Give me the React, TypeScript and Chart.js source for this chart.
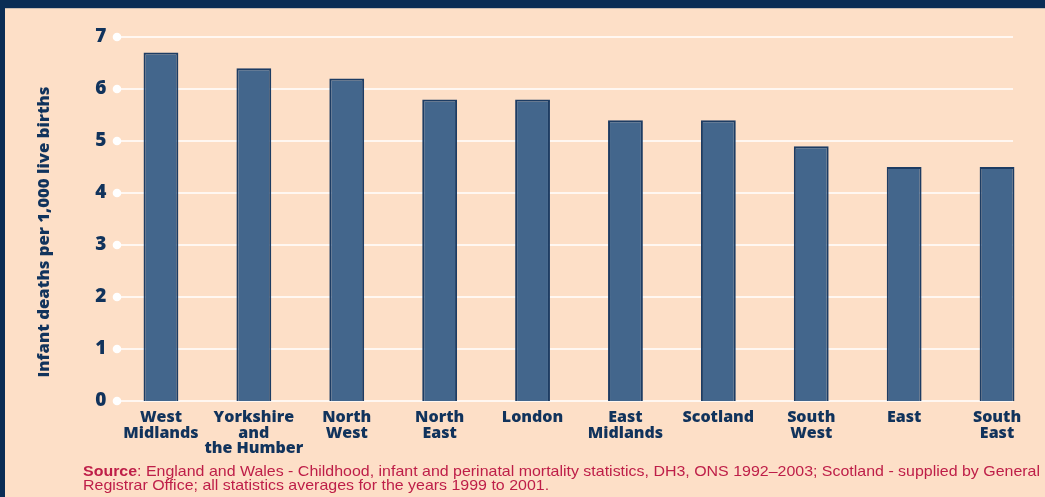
import React, { useEffect, useRef } from "react";
import { Chart, registerables } from "chart.js";

Chart.register(...registerables);

const categories: string[][] = [
  ["West", "Midlands"],
  ["Yorkshire", "and", "the Humber"],
  ["North", "West"],
  ["North", "East"],
  ["London"],
  ["East", "Midlands"],
  ["Scotland"],
  ["South", "West"],
  ["East"],
  ["South", "East"],
];
const values: number[] = [6.7, 6.4, 6.2, 5.8, 5.8, 5.4, 5.4, 4.9, 4.5, 4.5];
const yMin = 0;
const yMax = 7;
const yStep = 1;
const yTitle = "Infant deaths per 1,000 live births";
const sourceLabel = "Source";
const sourceLine1 =
  ": England and Wales - Childhood, infant and perinatal mortality statistics, DH3, ONS 1992\u20132003; Scotland - supplied by General";
const sourceLine2 = "Registrar Office; all statistics averages for the years 1999 to 2001.";

const BG = "#FDDFC7";
const NAVY = "#0A2D55";
const TEXT_NAVY = "#11335C";
const BAR_FILL = "#43668C";
const BAR_BORDER = "#1D3C63";
const SOURCE_RED = "#BE1E48";

const framePlugin = {
  id: "frame",
  beforeDraw(chart: any) {
    const { ctx, width, height } = chart;
    ctx.save();
    ctx.fillStyle = BG;
    ctx.fillRect(0, 0, width, height);
    ctx.fillStyle = NAVY;
    ctx.fillRect(0, 0, width, 8);
    ctx.fillRect(0, 0, 5, height);
    ctx.fillStyle = "#C9BDB3";
    ctx.fillRect(5, 8, width - 5, 1);
    ctx.restore();
  },
};

const gridPlugin = {
  id: "customGrid",
  beforeDatasetsDraw(chart: any) {
    const { ctx, chartArea } = chart;
    const y = chart.scales.y;
    const x0 = chartArea.left + 2.5;
    const x1 = chartArea.right - 30.5;
    ctx.save();
    for (let v = yMin; v <= yMax; v += yStep) {
      const py = y.getPixelForValue(v);
      ctx.strokeStyle = "#FFFFFF";
      ctx.lineWidth = 1.6;
      ctx.beginPath();
      ctx.moveTo(x0, py);
      ctx.lineTo(x1, py);
      ctx.stroke();
      ctx.fillStyle = "#FFFFFF";
      ctx.beginPath();
      ctx.arc(x0, py, 4.3, 0, Math.PI * 2);
      ctx.fill();
    }
    ctx.restore();
  },
};

const textPlugin = {
  id: "texts",
  afterDraw(chart: any) {
    const { ctx, chartArea } = chart;
    ctx.save();
    // y title
    ctx.fillStyle = TEXT_NAVY;
    ctx.font = "800 15.5px 'Open Sans'";
    ctx.textAlign = "center";
    ctx.textBaseline = "middle";
    ctx.translate(45, (chartArea.top + chartArea.bottom) / 2 + 13);
    ctx.rotate(-Math.PI / 2);
    const tw = ctx.measureText(yTitle).width;
    const s = 291 / tw;
    ctx.scale(s, 1);
    ctx.fillText(yTitle, 0, 0);
    ctx.restore();

    // source
    ctx.save();
    ctx.fillStyle = SOURCE_RED;
    ctx.textBaseline = "alphabetic";
    ctx.textAlign = "left";
    const left = 83;
    const target = 957;
    const boldFont = "bold 14.5px 'Liberation Sans'";
    const normFont = "14.5px 'Liberation Sans'";
    ctx.font = boldFont;
    const wb = ctx.measureText(sourceLabel).width;
    ctx.font = normFont;
    const w1 = ctx.measureText(sourceLine1).width;
    const sx = target / (wb + w1);
    ctx.translate(left, 0);
    ctx.scale(sx, 1);
    ctx.font = boldFont;
    ctx.fillText(sourceLabel, 0, 476);
    ctx.font = normFont;
    ctx.fillText(sourceLine1, wb, 476);
    ctx.fillText(sourceLine2, 0, 490);
    ctx.restore();
  },
};

export default function App() {
  const ref = useRef<HTMLCanvasElement | null>(null);
  useEffect(() => {
    if (!ref.current) return;
    const chart = new Chart(ref.current, {
      type: "bar",
      data: {
        labels: categories,
        datasets: [
          {
            data: values,
            backgroundColor: BAR_FILL,
            borderColor: BAR_BORDER,
            borderWidth: 2,
            categoryPercentage: 1,
            barPercentage: 0.375,
          },
        ],
      },
      options: {
        responsive: false,
        animation: false,
        layout: { padding: { top: 37, right: 1.5, left: 0, bottom: 0 } },
        plugins: {
          legend: { display: false },
          tooltip: { enabled: false },
          title: { display: false },
        },
        scales: {
          x: {
            grid: { display: false },
            border: { display: false },
            ticks: {
              color: TEXT_NAVY,
              font: { family: "'Open Sans'", weight: "800", size: 16, lineHeight: 0.97 },
              padding: 1,
              maxRotation: 0,
              autoSkip: false,
            },
            afterFit(scale: any) {
              scale.height = 96;
            },
          },
          y: {
            min: yMin,
            max: yMax,
            grid: { display: false, drawTicks: false },
            border: { display: false },
            ticks: {
              stepSize: yStep,
              color: TEXT_NAVY,
              font: { family: "'Open Sans'", weight: "800", size: 19 },
              padding: 8,
            },
            afterFit(scale: any) {
              scale.width = 114.5;
            },
          },
        },
      },
      plugins: [framePlugin, gridPlugin, textPlugin],
    });
    return () => chart.destroy();
  }, []);
  return (
    <div style={{ position: "fixed", left: 0, top: 0, width: 1045, height: 497 }}>
      <canvas ref={ref} width={1045} height={497} />
    </div>
  );
}
